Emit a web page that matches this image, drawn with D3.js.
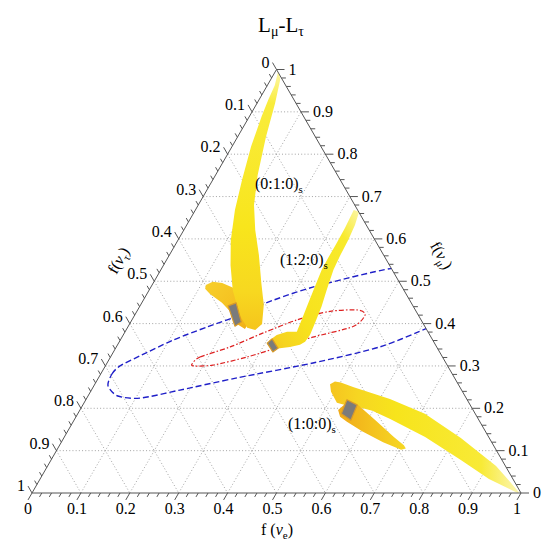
<!DOCTYPE html>
<html>
<head>
<meta charset="utf-8">
<script src="https://cdn.jsdelivr.net/npm/d3@7"></script>
<style>
  body { margin: 0; background: #fff; }
  svg text { font-family: "Liberation Serif", "DejaVu Serif", serif; fill: #000; }
</style>
</head>
<body>
<div id="chart"></div>
<script>
// Ternary chart, every point is [f(nu_e), f(nu_mu)], f(nu_tau) = 1 - the two

var full_width = 558;
var full_height = 560;
var serif = "'Liberation Serif', 'DejaVu Serif', serif";

var majorTicks = [0, 0.1, 0.2, 0.3, 0.4, 0.5, 0.6, 0.7, 0.8, 0.9, 1];
var tickLabels = ["0", "0.1", "0.2", "0.3", "0.4", "0.5", "0.6", "0.7", "0.8", "0.9", "1"];
var minorStep = 0.02;
var gridValues = [0.1, 0.2, 0.3, 0.4, 0.5, 0.6, 0.7, 0.8, 0.9];

// (0:1:0)_s source
var band010 = [[0.006,0.994],[0.015,0.963],[0.019,0.928],[0.025,0.889],[0.039,0.818],[0.060,0.739],
               [0.081,0.668],[0.108,0.597],[0.137,0.538],[0.171,0.479],[0.215,0.420],[0.245,0.390],
               [0.264,0.385],[0.271,0.399],[0.252,0.444],[0.221,0.496],[0.183,0.562],[0.146,0.621],
               [0.114,0.680],[0.086,0.751],[0.058,0.841],[0.037,0.920],[0.020,0.975],[0.009,0.994]];
var boot010 = [[0.110,0.491],[0.120,0.499],[0.141,0.496],[0.166,0.486],[0.188,0.475],[0.220,0.444],
               [0.242,0.404],[0.242,0.387],[0.223,0.397],[0.198,0.423],[0.164,0.449],[0.129,0.470],
               [0.113,0.482]];
var gray010 = [[0.180,0.442],[0.193,0.449],[0.226,0.404],[0.218,0.394]];

// (1:2:0)_s source
var band120 = [[0.324,0.668],[0.327,0.626],[0.328,0.588],[0.328,0.555],[0.329,0.527],[0.336,0.479],
               [0.342,0.440],[0.347,0.409],[0.351,0.381],[0.331,0.381],[0.314,0.373],[0.306,0.361],
               [0.305,0.352],[0.321,0.338],[0.336,0.342],[0.355,0.345],[0.373,0.350],[0.380,0.357],
               [0.382,0.373],[0.378,0.401],[0.372,0.440],[0.363,0.479],[0.353,0.527],[0.350,0.560],
               [0.348,0.597],[0.344,0.633],[0.337,0.664]];
var gray120 = [[0.304,0.354],[0.309,0.364],[0.332,0.342],[0.326,0.333]];

// (1:0:0)_s source
var band100 = [[0.492,0.239],[0.481,0.257],[0.488,0.263],[0.501,0.261],[0.533,0.250],[0.621,0.222],
               [0.710,0.187],[0.812,0.130],[0.917,0.064],[0.995,0.002],[0.993,0.000],[0.918,0.033],
               [0.838,0.078],[0.738,0.132],[0.645,0.175],[0.599,0.194],[0.565,0.203],[0.536,0.208],
               [0.517,0.213]];
var spur100 = [[0.535,0.210],[0.563,0.208],[0.619,0.170],[0.674,0.132],[0.704,0.113],[0.712,0.105],
               [0.704,0.102],[0.658,0.120],[0.602,0.146],[0.560,0.168],[0.540,0.180],[0.528,0.196]];
var gray100 = [[0.534,0.220],[0.561,0.208],[0.566,0.172],[0.539,0.187]];

// 90% CL contours
var blueContour = [[0.029,0.253],[0.023,0.281],[0.030,0.300],[0.059,0.324],[0.108,0.361],[0.162,0.392],
                   [0.215,0.420],[0.249,0.446],[0.331,0.486],[0.473,0.531],[0.569,0.531],[0.656,0.479],
                   [0.665,0.420],[0.618,0.392],[0.539,0.345],[0.421,0.307],[0.284,0.272],[0.181,0.243],
                   [0.109,0.224],[0.061,0.229]];
var redContour = [[0.175,0.305],[0.183,0.321],[0.233,0.345],[0.284,0.378],[0.338,0.409],[0.395,0.429],
                  [0.451,0.432],[0.471,0.420],[0.460,0.393],[0.390,0.368],[0.335,0.345],[0.279,0.321],
                  [0.219,0.302],[0.181,0.300]];

var sourceLabels = [{name: "(0:1:0)", at: [0.097, 0.718]},
                    {name: "(1:2:0)", at: [0.238, 0.538]},
                    {name: "(1:0:0)", at: [0.448, 0.151]}];

var svg = d3.select("#chart")
            .append("svg")
            .attr("width", full_width)
            .attr("height", full_height)
            .attr("font-family", serif);

var xs = d3.scaleLinear().domain([0, 1]).range([32, 521]);
var ys = d3.scaleLinear().domain([0, 1]).range([493, 69.5]);

function pt(d){ return [xs(d[0] + d[1] / 2), ys(d[1])]; }

var shape = d3.line().x(function(d){ return pt(d)[0]; })
                     .y(function(d){ return pt(d)[1]; })
                     .curve(d3.curveLinearClosed);
var smooth = d3.line().x(function(d){ return pt(d)[0]; })
                      .y(function(d){ return pt(d)[1]; })
                      .curve(d3.curveCardinalClosed.tension(0.2));

var defs = svg.append("defs");
defs.append("clipPath").attr("id", "tri")
    .append("path").attr("d", shape([[0,0],[1,0],[0,1]]));

function gradient(id, x1, y1, x2, y2, stops){
  var g = defs.append("linearGradient").attr("id", id)
              .attr("x1", x1).attr("y1", y1).attr("x2", x2).attr("y2", y2);
  stops.forEach(function(s){ g.append("stop").attr("offset", s[0]).attr("stop-color", s[1]); });
}
gradient("g010", 0, 0, 0, 1, [[0,"#fdf7a8"],[0.12,"#f9ec3c"],[0.6,"#f8e51c"],[0.85,"#f7d820"],[1,"#f5c51c"]]);
gradient("gboot", 0, 0, 1, 1, [[0,"#f7cf2c"],[0.6,"#f5c020"],[1,"#f0ae16"]]);
gradient("g120", 1, 0, 0, 1, [[0,"#fcf6a6"],[0.18,"#f8ea2c"],[0.7,"#f7e21c"],[0.88,"#f6d420"],[1,"#f4c41c"]]);
gradient("g100", 0, 0, 1, 0, [[0,"#f5c420"],[0.15,"#f6d622"],[0.35,"#f7e41c"],[0.8,"#f8ea36"],[1,"#fcf6b4"]]);
gradient("gspur", 0, 0, 1, 0, [[0,"#f0aa18"],[0.5,"#f4c21e"],[1,"#f6d824"]]);

// grid
var gridLines = [];
gridValues.forEach(function(k){
  gridLines.push([[0, k], [1 - k, k]]);   // constant f(nu_mu)
  gridLines.push([[k, 0], [k, 1 - k]]);   // constant f(nu_e)
  gridLines.push([[0, 1 - k], [1 - k, 0]]); // constant f(nu_tau)
});
svg.append("g").attr("class", "grid")
   .selectAll("line").data(gridLines).enter().append("line")
   .attr("x1", function(d){ return pt(d[0])[0]; })
   .attr("y1", function(d){ return pt(d[0])[1]; })
   .attr("x2", function(d){ return pt(d[1])[0]; })
   .attr("y2", function(d){ return pt(d[1])[1]; })
   .attr("stroke", "#9a9a9a").attr("stroke-width", 0.9)
   .attr("stroke-dasharray", "1,2.2");

// contours, clipped to the triangle
var cont = svg.append("g").attr("clip-path", "url(#tri)");
cont.append("path").attr("d", smooth(blueContour))
    .attr("fill", "none").attr("stroke", "#1f1fc8").attr("stroke-width", 1.4)
    .attr("stroke-dasharray", "6,3");
cont.append("path").attr("d", smooth(redContour))
    .attr("fill", "none").attr("stroke", "#dd2020").attr("stroke-width", 1.2)
    .attr("stroke-dasharray", "5,2,1.5,2");

// source regions
var regions = svg.append("g").attr("clip-path", "url(#tri)");
regions.append("path").attr("d", shape(boot010)).attr("fill", "url(#gboot)");
regions.append("path").attr("d", shape(band010)).attr("fill", "url(#g010)");
regions.append("path").attr("d", shape(band120)).attr("fill", "url(#g120)");
regions.append("path").attr("d", shape(band100)).attr("fill", "url(#g100)");
regions.append("path").attr("d", shape(spur100)).attr("fill", "url(#gspur)");
[gray010, gray120, gray100].forEach(function(g){
  regions.append("path").attr("d", shape(g))
         .attr("fill", "#7b7b7b").attr("stroke", "#d89a2a").attr("stroke-width", 1.2)
         .attr("stroke-linejoin", "round");
});

// triangle frame
svg.append("path").attr("d", shape([[0,0],[1,0],[0,1]]))
   .attr("fill", "none").attr("stroke", "#555").attr("stroke-width", 1);

// ticks
var axes = [
  {base: function(v){ return pt([v, 0]); },     dir: [-0.5, 0.866]},  // f(nu_e)
  {base: function(v){ return pt([1 - v, v]); }, dir: [1, 0]},         // f(nu_mu)
  {base: function(v){ return pt([0, 1 - v]); }, dir: [-0.5, -0.866]}  // f(nu_tau)
];
var tickG = svg.append("g").attr("class", "ticks");
axes.forEach(function(ax, a){
  var vals = d3.range(0, 1 + 1e-9, minorStep);
  vals.forEach(function(v){
    var major = Math.abs(v * 10 - Math.round(v * 10)) < 1e-6;
    var len = major ? 8 : 4.5;
    var b = ax.base(v);
    tickG.append("line")
         .attr("x1", b[0]).attr("y1", b[1])
         .attr("x2", b[0] + ax.dir[0] * len).attr("y2", b[1] + ax.dir[1] * len)
         .attr("stroke", "#555").attr("stroke-width", 1);
  });
  majorTicks.forEach(function(v, i){
    var b = ax.base(v);
    var tx = b[0] + ax.dir[0] * 8, ty = b[1] + ax.dir[1] * 8;
    var t = tickG.append("text").text(tickLabels[i])
                 .attr("font-family", serif).style("font-size", "16px");
    if (a == 0) t.attr("x", tx).attr("y", ty + 14).attr("text-anchor", "middle");
    if (a == 1) t.attr("x", tx + 4).attr("y", ty + 5).attr("text-anchor", "start");
    if (a == 2) t.attr("x", tx - 3).attr("y", ty + 5).attr("text-anchor", "end");
  });
});

// source labels
sourceLabels.forEach(function(s){
  var p = pt(s.at);
  var t = svg.append("text").attr("x", p[0]).attr("y", p[1])
             .attr("font-family", serif).style("font-size", "16px");
  t.append("tspan").text(s.name);
  t.append("tspan").text("s").attr("dy", 4).style("font-size", "11px");
});

// axis titles
function subTitle(g, pre, sub){
  var t = g.append("text").attr("text-anchor", "middle")
           .attr("font-family", serif).style("font-size", "16px");
  t.append("tspan").text(pre);
  t.append("tspan").text("ν").style("font-style", "italic");
  t.append("tspan").text(sub).attr("dy", 4).style("font-size", "11px");
  t.append("tspan").text(")").attr("dy", -4);
  return t;
}
subTitle(svg.append("g").attr("transform", "translate(277,535)"), "f (", "e");
subTitle(svg.append("g").attr("transform", "translate(123,263) rotate(-60)"), "f(", "τ");
subTitle(svg.append("g").attr("transform", "translate(437,258) rotate(60)"), "f(", "μ");

// title
var title = svg.append("text").attr("x", 281).attr("y", 32)
               .attr("text-anchor", "middle")
               .attr("font-family", serif).style("font-size", "21px");
title.append("tspan").text("L");
title.append("tspan").text("μ").attr("dy", 4).style("font-size", "14px");
title.append("tspan").text("-L").attr("dy", -4);
title.append("tspan").text("τ").attr("dy", 4).style("font-size", "14px");
</script>
</body>
</html>
